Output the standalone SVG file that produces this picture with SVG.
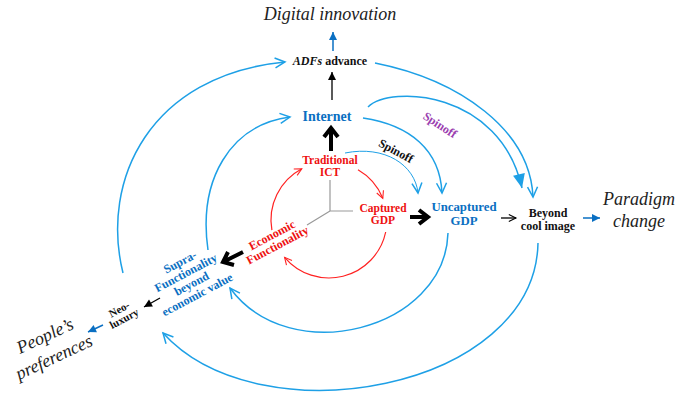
<svg xmlns="http://www.w3.org/2000/svg" width="690" height="399" viewBox="0 0 690 399">
<defs>
<style>
.t{font-family:"Liberation Serif","Times New Roman",serif;font-weight:bold;font-size:12px}
.big{font-family:"Liberation Serif","Times New Roman",serif;font-style:italic;font-size:18px;fill:#222}
.red{fill:#ee1111}
.blu{fill:#0a6fc2}
.blk{fill:#111}
.arc{fill:none;stroke:#1ea0e6;stroke-width:1.5}
.arcr{fill:none;stroke:#f22;stroke-width:1.2}
.thk{fill:none;stroke:#000;stroke-width:4;stroke-linejoin:miter;stroke-linecap:butt}
</style>
<marker id="ob" viewBox="0 0 12 12" refX="11" refY="6" markerWidth="12" markerHeight="12" markerUnits="userSpaceOnUse" orient="auto" overflow="visible">
<path d="M1,1 L11,6 L1,11" fill="none" stroke="#1ea0e6" stroke-width="1.5"/>
</marker>
<marker id="fb" viewBox="0 0 14 12" refX="14" refY="6" markerWidth="14" markerHeight="12" markerUnits="userSpaceOnUse" orient="auto" overflow="visible">
<path d="M0,0 L14,6 L0,12 Z" fill="#1ea0e6"/>
</marker>
<marker id="or" viewBox="0 0 10 10" refX="9" refY="5" markerWidth="9" markerHeight="9" markerUnits="userSpaceOnUse" orient="auto" overflow="visible">
<path d="M1,1 L9,5 L1,9" fill="none" stroke="#f22" stroke-width="1.2"/>
</marker>
<marker id="ok" viewBox="0 0 10 10" refX="9" refY="5" markerWidth="9" markerHeight="9" markerUnits="userSpaceOnUse" orient="auto" overflow="visible">
<path d="M1,1 L9,5 L1,9" fill="none" stroke="#000" stroke-width="1.2"/>
</marker>
<marker id="fk" viewBox="0 0 8 8" refX="8" refY="4" markerWidth="8" markerHeight="8" markerUnits="userSpaceOnUse" orient="auto" overflow="visible">
<path d="M0,0 L8,4 L0,8 Z" fill="#000"/>
</marker>
<marker id="fd" viewBox="0 0 8 8" refX="8" refY="4" markerWidth="8" markerHeight="8" markerUnits="userSpaceOnUse" orient="auto" overflow="visible">
<path d="M0,0 L8,4 L0,8 Z" fill="#0a6fc2"/>
</marker>
</defs>
<rect width="690" height="399" fill="#fff"/>

<g id="connectors">
<path d="M330,180 L330,211 L353,211 M330,211 L307,225" fill="none" stroke="#999" stroke-width="1.2"/>
<path class="arcr" d="M271.9,230.1 A58,58 0 0 1 301.8,168.8" marker-end="url(#or)"/>
<path class="arcr" d="M358,169.8 A58,58 0 0 1 382.8,198.3" marker-end="url(#or)"/>
<path class="arcr" d="M385.7,232 A58,58 0 0 1 284.6,257.3" marker-end="url(#or)"/>
<path class="arc" d="M123,273 C100,180 150,75 285,62" marker-end="url(#ob)"/>
<path class="arc" d="M208,250 C198,180 230,125 290,117" marker-end="url(#ob)"/>
<path class="arc" d="M448,233 C445,330 290,370 230,288" marker-end="url(#ob)"/>
<path class="arc" d="M538,243 C535,390 260,440 163,333" marker-end="url(#ob)"/>
<path class="arc" d="M363,118 C410,125 440,150 442,193" marker-end="url(#ob)"/>
<path class="arc" style="stroke-width:1" d="M345,153 C385,145 415,165 418,193" marker-end="url(#ob)"/>
<path class="arc" d="M368,107 C390,85 500,90 522,188" marker-end="url(#fb)"/>
<path class="arc" d="M375,63 C460,80 530,130 533,197" marker-end="url(#ob)"/>
<line x1="333" y1="51" x2="333" y2="32" stroke="#0a6fc2" stroke-width="1.5" marker-end="url(#fd)"/>
<line x1="332" y1="100" x2="332" y2="72" stroke="#000" stroke-width="1.3" marker-end="url(#fk)"/>
<line x1="501" y1="218" x2="516" y2="218" stroke="#000" stroke-width="1.3" marker-end="url(#ok)"/>
<line x1="583" y1="218" x2="600" y2="218" stroke="#0a6fc2" stroke-width="1.5" marker-end="url(#fd)"/>
<line x1="160" y1="298" x2="144" y2="307" stroke="#000" stroke-width="1.3" marker-end="url(#fk)"/>
<line x1="103" y1="325" x2="88" y2="332" stroke="#0a6fc2" stroke-width="1.5" marker-end="url(#fd)"/>
<path class="thk" d="M331,151 L331,129 M324,137 L331,128 L338,137"/>
<path class="thk" d="M410,217 L427,217 M419,210 L428,217 L419,224"/>
<path class="thk" d="M243,252 L225,261 M228,252 L223,262 L234,265"/>
</g>

<g id="digital-innovation"><text class="big" x="330" y="20" text-anchor="middle">Digital innovation</text></g>
<g id="adfs-advance"><text class="t blk" x="330" y="65" text-anchor="middle"><tspan font-style="italic">ADFs</tspan> advance</text></g>
<g id="internet"><text class="t blu" x="327" y="121" text-anchor="middle" style="font-size:14px">Internet</text></g>
<g id="traditional-ict"><text class="t red" text-anchor="middle" style="font-size:11.5px"><tspan x="330" y="164">Traditional</tspan><tspan x="330" y="176">ICT</tspan></text></g>
<g id="captured-gdp"><text class="t red" text-anchor="middle" style="font-size:11.5px"><tspan x="383" y="212">Captured</tspan><tspan x="383" y="224">GDP</tspan></text></g>
<g id="uncaptured-gdp"><text class="t blu" text-anchor="middle" style="font-size:12.8px"><tspan x="464" y="211">Uncaptured</tspan><tspan x="464" y="225">GDP</tspan></text></g>
<g id="beyond-cool-image"><text class="t blk" text-anchor="middle"><tspan x="548" y="217">Beyond</tspan><tspan x="548" y="230">cool image</tspan></text></g>
<g id="paradigm-change"><text class="big" text-anchor="middle"><tspan x="639" y="205">Paradigm</tspan><tspan x="639" y="227">change</tspan></text></g>
<g id="economic-functionality" transform="translate(272,235) rotate(-28)"><text class="t red" text-anchor="middle"><tspan x="0" y="4">Economic</tspan><tspan x="0" y="15.5">Functionality</tspan></text></g>
<g id="supra-functionality" transform="translate(180,262) rotate(-28)"><text class="t blu" text-anchor="middle"><tspan x="0" y="4">Supra-</tspan><tspan x="0" y="16.3">Functionality</tspan><tspan x="0" y="28.6">beyond</tspan><tspan x="0" y="40.9">economic value</tspan></text></g>
<g id="neo-luxury" transform="translate(119,309) rotate(-28)"><text class="t blk" text-anchor="middle" style="font-size:11px"><tspan x="0" y="4">Neo-</tspan><tspan x="0" y="14.5">luxury</tspan></text></g>
<g id="peoples-preferences"><text class="big" transform="translate(20,354) rotate(-25)">People’s</text><text class="big" transform="translate(19,380) rotate(-25)">preferences</text></g>
<g id="spinoff-inner" transform="translate(396,151) rotate(28)"><text class="t blk" text-anchor="middle" x="0" y="4">Spinoff</text></g>
<g id="spinoff-outer" transform="translate(440,125) rotate(33)"><text class="t" style="fill:#9b40b0" text-anchor="middle" x="0" y="4">Spinoff</text></g>
</svg>
